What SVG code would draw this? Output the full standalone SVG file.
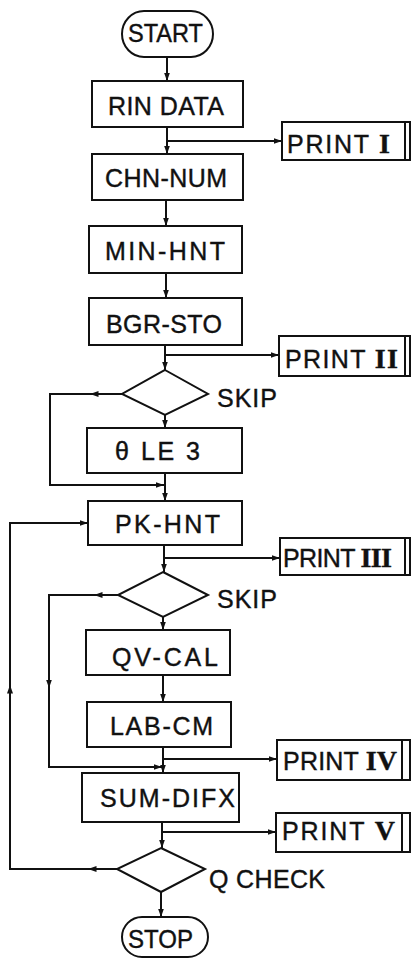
<svg xmlns="http://www.w3.org/2000/svg" width="411" height="959" viewBox="0 0 411 959">
<defs>
<marker id="ah" markerUnits="userSpaceOnUse" markerWidth="9" markerHeight="7" refX="8.5" refY="3.5" orient="auto">
<path d="M0,0.5 L8.5,3.5 L0,6.5 z" fill="#111"/>
</marker>
</defs>
<style>
.b{fill:#fff;stroke:#111;stroke-width:2}
.c{fill:none;stroke:#111;stroke-width:2;marker-end:url(#ah)}
.n{fill:none;stroke:#111;stroke-width:2}
text{font-family:"Liberation Sans",Arial,sans-serif;font-size:25px;fill:#111;stroke:#111;stroke-width:0.4}
.r{font-family:"Liberation Serif","Times New Roman",serif;font-weight:bold;font-size:28px}
</style>
<rect width="411" height="959" fill="#fff"/>

<g id="connectors">
<path class="c" d="M167,57 L167,81"/>
<path class="c" d="M167,127 L167,154"/>
<path class="c" d="M167,141 L282,141"/>
<path class="c" d="M166,200 L166,226"/>
<path class="c" d="M166,273 L166,298"/>
<path class="c" d="M165,345 L165,370"/>
<path class="c" d="M165,355 L279,355"/>
<path class="c" d="M165,415 L165,428"/>
<path class="c" d="M122,394 L90,394"/>
<path class="c" d="M90,394 L50,394 L50,485 L164,485"/>
<path class="c" d="M165,473 L165,501"/>
<path class="c" d="M164,545 L164,572"/>
<path class="c" d="M164,558 L280,558"/>
<path class="c" d="M163,617 L163,630"/>
<path class="c" d="M118,595 L94,595"/>
<path class="c" d="M94,595 L49,595 L49,688"/>
<path class="c" d="M49,688 L49,767 L162,767"/>
<path class="c" d="M163,675 L163,702"/>
<path class="c" d="M163,747 L163,773"/>
<path class="c" d="M163,759 L277,759"/>
<path class="c" d="M162,822 L162,848"/>
<path class="c" d="M162,832 L276,832"/>
<path class="c" d="M117,869 L88,869"/>
<path class="c" d="M88,869 L10,869 L10,685"/>
<path class="c" d="M10,685 L10,523 L88,523"/>
<path class="c" d="M161,892 L161,917"/>
</g>

<g id="start">
<rect class="b" x="122" y="11" width="91" height="46" rx="22" ry="23"/>
<text x="128" y="42" textLength="75" lengthAdjust="spacingAndGlyphs">START</text>
</g>
<g id="rin-data">
<rect class="b" x="92" y="81" width="151" height="46"/>
<text x="108" y="115" textLength="116" lengthAdjust="spacing">RIN DATA</text>
</g>
<g id="print-1">
<rect class="b" x="282" y="122" width="128" height="38"/>
<line class="n" x1="405" y1="122" x2="405" y2="160"/>
<text x="287" y="153" textLength="103" lengthAdjust="spacing">PRINT <tspan class="r">I</tspan></text>
</g>
<g id="chn-num">
<rect class="b" x="92" y="154" width="151" height="46"/>
<text x="105" y="187" textLength="122" lengthAdjust="spacing">CHN-NUM</text>
</g>
<g id="min-hnt">
<rect class="b" x="89" y="226" width="153" height="47"/>
<text x="105" y="260" textLength="120" lengthAdjust="spacing">MIN-HNT</text>
</g>
<g id="bgr-sto">
<rect class="b" x="89" y="298" width="153" height="47"/>
<text x="106" y="333" textLength="116" lengthAdjust="spacing">BGR-STO</text>
</g>
<g id="print-2">
<rect class="b" x="279" y="336" width="131" height="40"/>
<line class="n" x1="405" y1="336" x2="405" y2="376"/>
<text x="285" y="368" textLength="113" lengthAdjust="spacing">PRINT <tspan class="r">II</tspan></text>
</g>
<g id="skip-1">
<polygon class="b" points="165,370 208,394 165,415 122,394"/>
<text x="217" y="407" textLength="60" lengthAdjust="spacing">SKIP</text>
</g>
<g id="theta-le3">
<rect class="b" x="87" y="428" width="155" height="45"/>
<text x="115" y="460" textLength="85" lengthAdjust="spacing">θ LE 3</text>
</g>
<g id="pk-hnt">
<rect class="b" x="88" y="501" width="154" height="44"/>
<text x="115" y="533" textLength="105" lengthAdjust="spacing">PK-HNT</text>
</g>
<g id="print-3">
<rect class="b" x="280" y="538" width="130" height="37"/>
<line class="n" x1="405" y1="538" x2="405" y2="575"/>
<text x="283" y="567" textLength="109" lengthAdjust="spacing">PRINT <tspan class="r">III</tspan></text>
</g>
<g id="skip-2">
<polygon class="b" points="163,572 208,595 163,617 118,595"/>
<text x="217" y="608" textLength="60" lengthAdjust="spacing">SKIP</text>
</g>
<g id="qv-cal">
<rect class="b" x="86" y="630" width="144" height="45"/>
<text x="112" y="666" textLength="106" lengthAdjust="spacing">QV-CAL</text>
</g>
<g id="lab-cm">
<rect class="b" x="87" y="702" width="144" height="45"/>
<text x="110" y="735" textLength="103" lengthAdjust="spacing">LAB-CM</text>
</g>
<g id="print-4">
<rect class="b" x="277" y="740" width="133" height="40"/>
<line class="n" x1="402" y1="740" x2="402" y2="780"/>
<text x="283" y="770" textLength="114" lengthAdjust="spacing">PRINT <tspan class="r">IV</tspan></text>
</g>
<g id="sum-difx">
<rect class="b" x="82" y="773" width="157" height="49"/>
<text x="100" y="807" textLength="135" lengthAdjust="spacing">SUM-DIFX</text>
</g>
<g id="print-5">
<rect class="b" x="276" y="813" width="134" height="39"/>
<line class="n" x1="402" y1="813" x2="402" y2="852"/>
<text x="282" y="840" textLength="113" lengthAdjust="spacing">PRINT <tspan class="r">V</tspan></text>
</g>
<g id="q-check">
<polygon class="b" points="161,848 205,869 161,892 117,869"/>
<text x="209" y="888" textLength="116" lengthAdjust="spacing">Q CHECK</text>
</g>
<g id="stop">
<rect class="b" x="122" y="917" width="86" height="40" rx="20" ry="20"/>
<text x="128" y="948" textLength="65" lengthAdjust="spacingAndGlyphs">STOP</text>
</g>
</svg>
